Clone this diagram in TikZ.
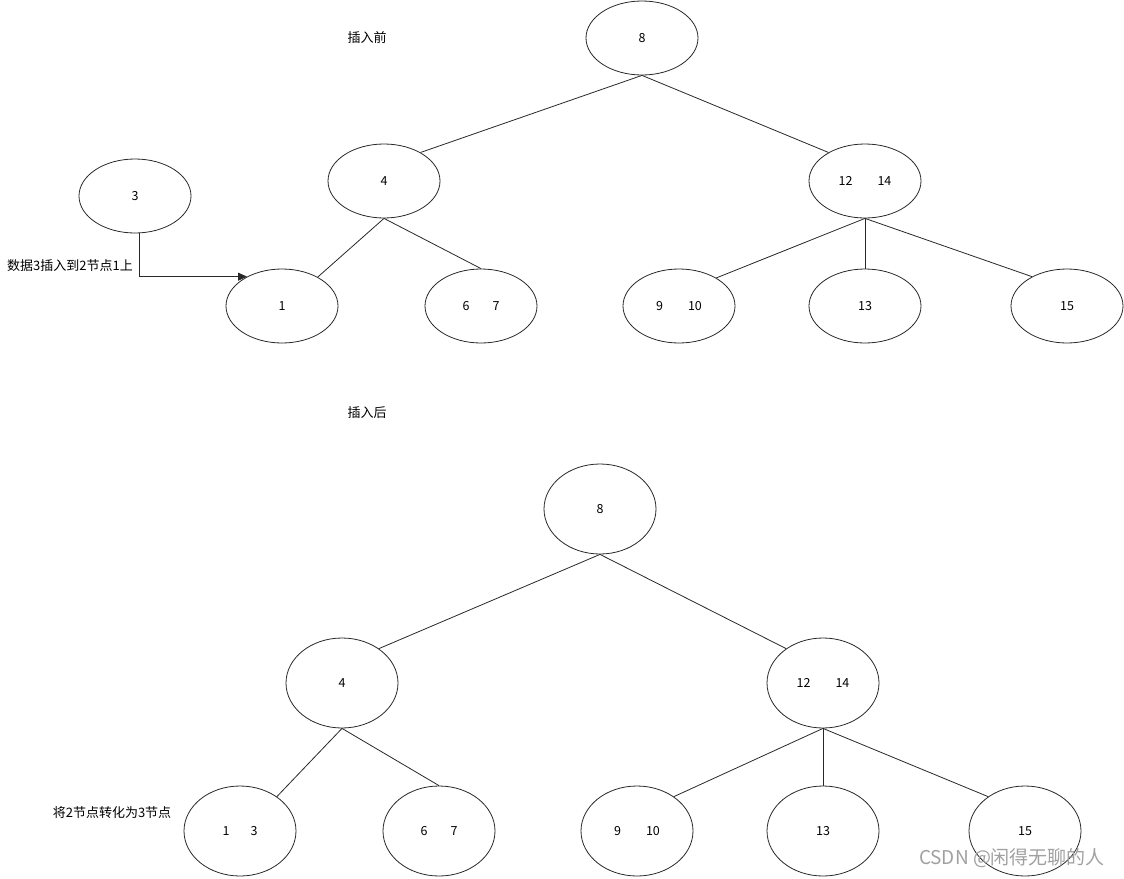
\documentclass[tikz,border=0pt]{standalone}
\usepackage{fontspec}
\setmainfont{Noto Sans CJK SC}
\usetikzlibrary{shapes.geometric,arrows.meta}
\definecolor{inkgray}{RGB}{40,40,40}
\definecolor{wmgray}{RGB}{160,160,160}
\tikzset{
  keynode/.style={ellipse,draw=inkgray,line width=0.8pt,minimum width=112pt,minimum height=74pt,inner sep=0pt,font=\fontsize{12.5}{14}\selectfont},
  tallnode/.style={keynode,minimum height=90pt},
  link/.style={draw=inkgray,line width=0.8pt},
  ins/.style={link,-{Triangle[length=9pt,width=8pt]}},
  note/.style={font=\fontsize{13}{15}\selectfont},
  wmark/.style={font=\fontsize{19}{21}\selectfont,text=wmgray}
}

\begin{document}
\begin{tikzpicture}[x=1pt,y=-1pt]
  \useasboundingbox (0,0) rectangle (1124,878);
  % before insertion
  \node[note] (before) at (367,38) {插入前};
  \node[keynode] (a8) at (642,38) {8};
  \node[keynode] (a4) at (384,181) {4};
  \node[keynode] (a1214) at (865,181) {12\hspace{25pt}14};
  \node[keynode] (a3) at (135,196) {3};
  \node[keynode] (a1) at (282,306) {1};
  \node[keynode] (a67) at (481,306) {6\hspace{23pt}7};
  \node[keynode] (a910) at (679,306) {9\hspace{25pt}10};
  \node[keynode] (a13) at (865,306) {13};
  \node[keynode] (a15) at (1067,306) {15};
  \draw[link] (a8.south) -- (a4.38);
  \draw[link] (a8.south) -- (a1214.142);
  \draw[link] (a4.south) -- (a1.39);
  \draw[link] (a4.south) -- (a67.north);
  \draw[link] (a1214.south) -- (a910.37);
  \draw[link] (a1214.south) -- (a13.north);
  \draw[link] (a1214.south) -- (a15.140);
  \draw[ins] ([xshift=4pt]a3.south) |- (a1.140);
  \node[note] (step1) at (70,266) {数据3插入到2节点1上};
  % after insertion
  \node[note] (after) at (367,413) {插入后};
  \node[tallnode] (b8) at (600,509) {8};
  \node[tallnode] (b4) at (342,683) {4};
  \node[tallnode] (b1214) at (823,683) {12\hspace{25pt}14};
  \node[tallnode] (b13) at (240,831) {1\hspace{21pt}3};
  \node[tallnode] (b67) at (439,831) {6\hspace{23pt}7};
  \node[tallnode] (b910) at (637,831) {9\hspace{25pt}10};
  \node[tallnode] (b13b) at (823,831) {13};
  \node[tallnode] (b15) at (1025,831) {15};
  \draw[link] (b8.south) -- (b4.43);
  \draw[link] (b8.south) -- (b1214.137);
  \draw[link] (b4.south) -- (b13.43);
  \draw[link] (b4.south) -- (b67.north);
  \draw[link] (b1214.south) -- (b910.43);
  \draw[link] (b1214.south) -- (b13b.north);
  \draw[link] (b1214.south) -- (b15.137);
  \node[note] (step2) at (112,813) {将2节点转化为3节点};
  \node[wmark] (brand) at (1012,858) {CSDN @闲得无聊的人};
\end{tikzpicture}
\end{document}
